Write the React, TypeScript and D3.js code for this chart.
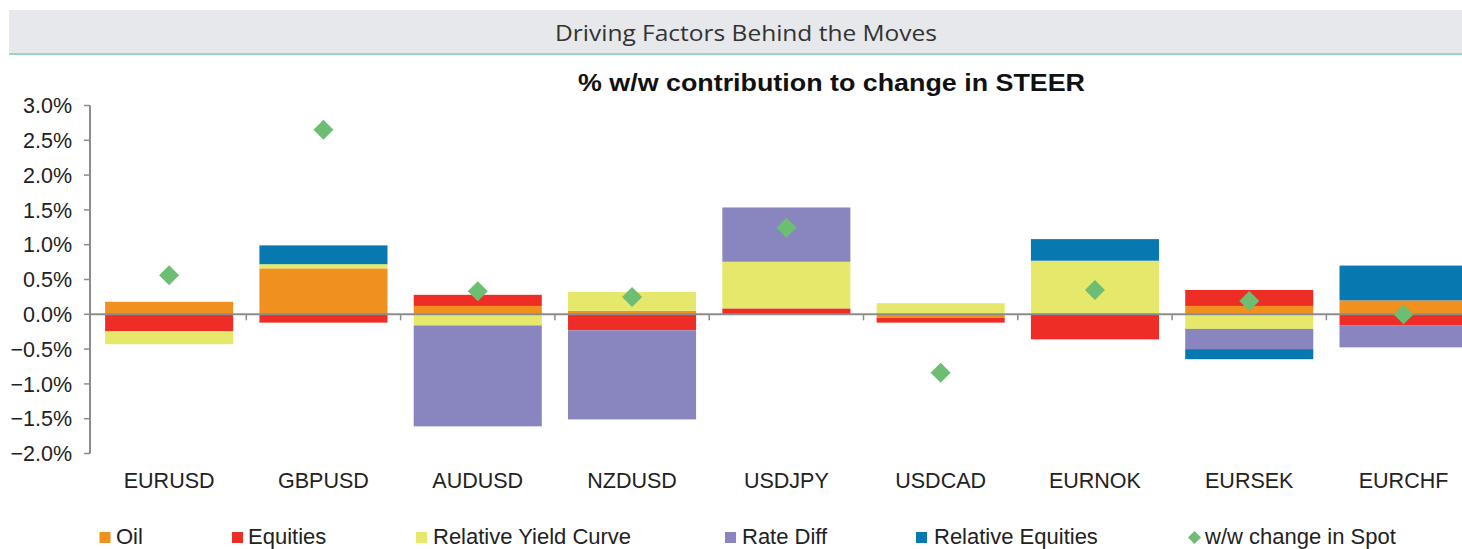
import React from "react";
import * as d3 from "d3";

const categories = ["EURUSD", "GBPUSD", "AUDUSD", "NZDUSD", "USDJPY", "USDCAD", "EURNOK", "EURSEK", "EURCHF"];
const seriesNames = ["Oil", "Equities", "Relative Yield Curve", "Rate Diff", "Relative Equities"];
const oil = [0.18, 0.66, 0.12, 0.05, 0, -0.05, 0, 0.12, 0.2];
const equities = [-0.24, -0.12, 0.16, -0.23, 0.085, -0.07, -0.36, 0.23, -0.155];
const relYieldCurve = [-0.19, 0.06, -0.16, 0.27, 0.67, 0.16, 0.77, -0.21, 0];
const rateDiff = [0, 0, -1.45, -1.28, 0.78, 0, 0, -0.29, -0.32];
const relEquities = [0, 0.27, 0, 0, 0, 0, 0.31, -0.145, 0.5];
const spotChange = [0.56, 2.65, 0.33, 0.25, 1.245, -0.84, 0.35, 0.19, 0.0];
const yTicks = [-2.0, -1.5, -1.0, -0.5, 0, 0.5, 1.0, 1.5, 2.0, 2.5, 3.0];
const colors = ["#F0901F", "#EE2E26", "#E6E86C", "#8985BF", "#0879B0"];
const diamondColor = "#6DBE72";

const W = 1462;
const H = 549;
const FONT = "'Liberation Sans', Arial, sans-serif";

export default function App() {
  const x = d3
    .scaleBand<string>()
    .domain(categories)
    .range([92, 92 + 9 * 154.3])
    .paddingInner(0.17)
    .paddingOuter(0.085);
  const y = d3.scaleLinear().domain([-2, 3]).range([453.5, 105.5]);

  const rows = categories.map((c, i) => ({
    cat: c,
    "Oil": oil[i],
    "Equities": equities[i],
    "Relative Yield Curve": relYieldCurve[i],
    "Rate Diff": rateDiff[i],
    "Relative Equities": relEquities[i],
  }));
  const stacked = d3
    .stack<any>()
    .keys(seriesNames)
    .order(d3.stackOrderNone)
    .offset(d3.stackOffsetDiverging)(rows);

  const step = x.step();
  const x0 = 92;
  const zeroY = y(0);
  const fmt = d3.format(".1f");

  const legendItems = [
    { name: "Oil", sx: 99.5, tx: 116, color: colors[0], type: "sq" },
    { name: "Equities", sx: 232, tx: 248, color: colors[1], type: "sq" },
    { name: "Relative Yield Curve", sx: 416, tx: 433, color: colors[2], type: "sq" },
    { name: "Rate Diff", sx: 725, tx: 742, color: colors[3], type: "sq" },
    { name: "Relative Equities", sx: 916, tx: 934, color: colors[4], type: "sq" },
    { name: "w/w change in Spot", sx: 1188.5, tx: 1205, color: diamondColor, type: "dia" },
  ];

  const diamond = (cx: number, cy: number, r: number) =>
    `M${cx},${cy - r}L${cx + r},${cy}L${cx},${cy + r}L${cx - r},${cy}Z`;

  return (
    <svg
      width={W}
      height={H}
      viewBox={`0 0 ${W} ${H}`}
      style={{ position: "absolute", left: 0, top: 0, background: "#fff" }}
    >
      <rect x={0} y={0} width={W} height={H} fill="#ffffff" />
      {/* header band */}
      <rect x={9} y={10} width={W - 9} height={43} fill="#E6E8EB" />
      <rect x={9} y={53} width={W - 9} height={2} fill="#95D6C9" />
      <text
        x={746}
        y={41}
        textAnchor="middle"
        fontFamily="'Open Sans', sans-serif"
        fontSize={22.5}
        fill="#333333"
        textLength={382}
        lengthAdjust="spacingAndGlyphs"
      >
        Driving Factors Behind the Moves
      </text>
      {/* chart title */}
      <text
        x={831.5}
        y={91}
        textAnchor="middle"
        fontFamily={FONT}
        fontWeight="bold"
        fontSize={24}
        fill="#111111"
        textLength={507}
        lengthAdjust="spacingAndGlyphs"
      >
        % w/w contribution to change in STEER
      </text>

      {/* bars */}
      <g>
        {stacked.map((s, si) => (
          <g key={s.key} fill={colors[si]}>
            {s.map((d, i) => {
              const top = y(Math.max(d[0], d[1]));
              const bot = y(Math.min(d[0], d[1]));
              if (bot - top <= 0) return null;
              return (
                <rect
                  key={i}
                  x={x(categories[i])}
                  y={top}
                  width={x.bandwidth()}
                  height={bot - top}
                />
              );
            })}
          </g>
        ))}
      </g>

      {/* y axis */}
      <line x1={90} x2={90} y1={y(3)} y2={y(-2)} stroke="#8C8C8C" strokeWidth={2} />
      {yTicks.map((t) => (
        <g key={t}>
          <line x1={84} x2={90} y1={y(t)} y2={y(t)} stroke="#8C8C8C" strokeWidth={1.5} />
          <text
            x={72}
            y={y(t)}
            dy="0.36em"
            textAnchor="end"
            fontFamily={FONT}
            fontSize={21.5}
            fill="#222222"
          >
            {fmt(t)}%
          </text>
        </g>
      ))}

      {/* zero line and category ticks */}
      <line x1={90} x2={W} y1={zeroY} y2={zeroY} stroke="#8C8C8C" strokeWidth={2} />
      {categories.map((c, i) => (
        <line
          key={c}
          x1={x0 + (i + 1) * step}
          x2={x0 + (i + 1) * step}
          y1={zeroY}
          y2={zeroY + 6}
          stroke="#8C8C8C"
          strokeWidth={1.5}
        />
      ))}

      {/* spot diamonds */}
      {spotChange.map((v, i) => (
        <path
          key={i}
          d={diamond((x(categories[i]) as number) + x.bandwidth() / 2, y(v), 10)}
          fill={diamondColor}
        />
      ))}

      {/* category labels */}
      {categories.map((c) => (
        <text
          key={c}
          x={(x(c) as number) + x.bandwidth() / 2}
          y={488}
          textAnchor="middle"
          fontFamily={FONT}
          fontSize={21.5}
          fill="#222222"
        >
          {c}
        </text>
      ))}

      {/* legend */}
      {legendItems.map((l) => (
        <g key={l.name}>
          {l.type === "sq" ? (
            <rect x={l.sx} y={532} width={11} height={11} fill={l.color} />
          ) : (
            <path d={diamond(l.sx + 6, 537.5, 6.5)} fill={l.color} />
          )}
          <text x={l.tx} y={543.5} fontFamily={FONT} fontSize={22} fill="#222222">
            {l.name}
          </text>
        </g>
      ))}
    </svg>
  );
}
